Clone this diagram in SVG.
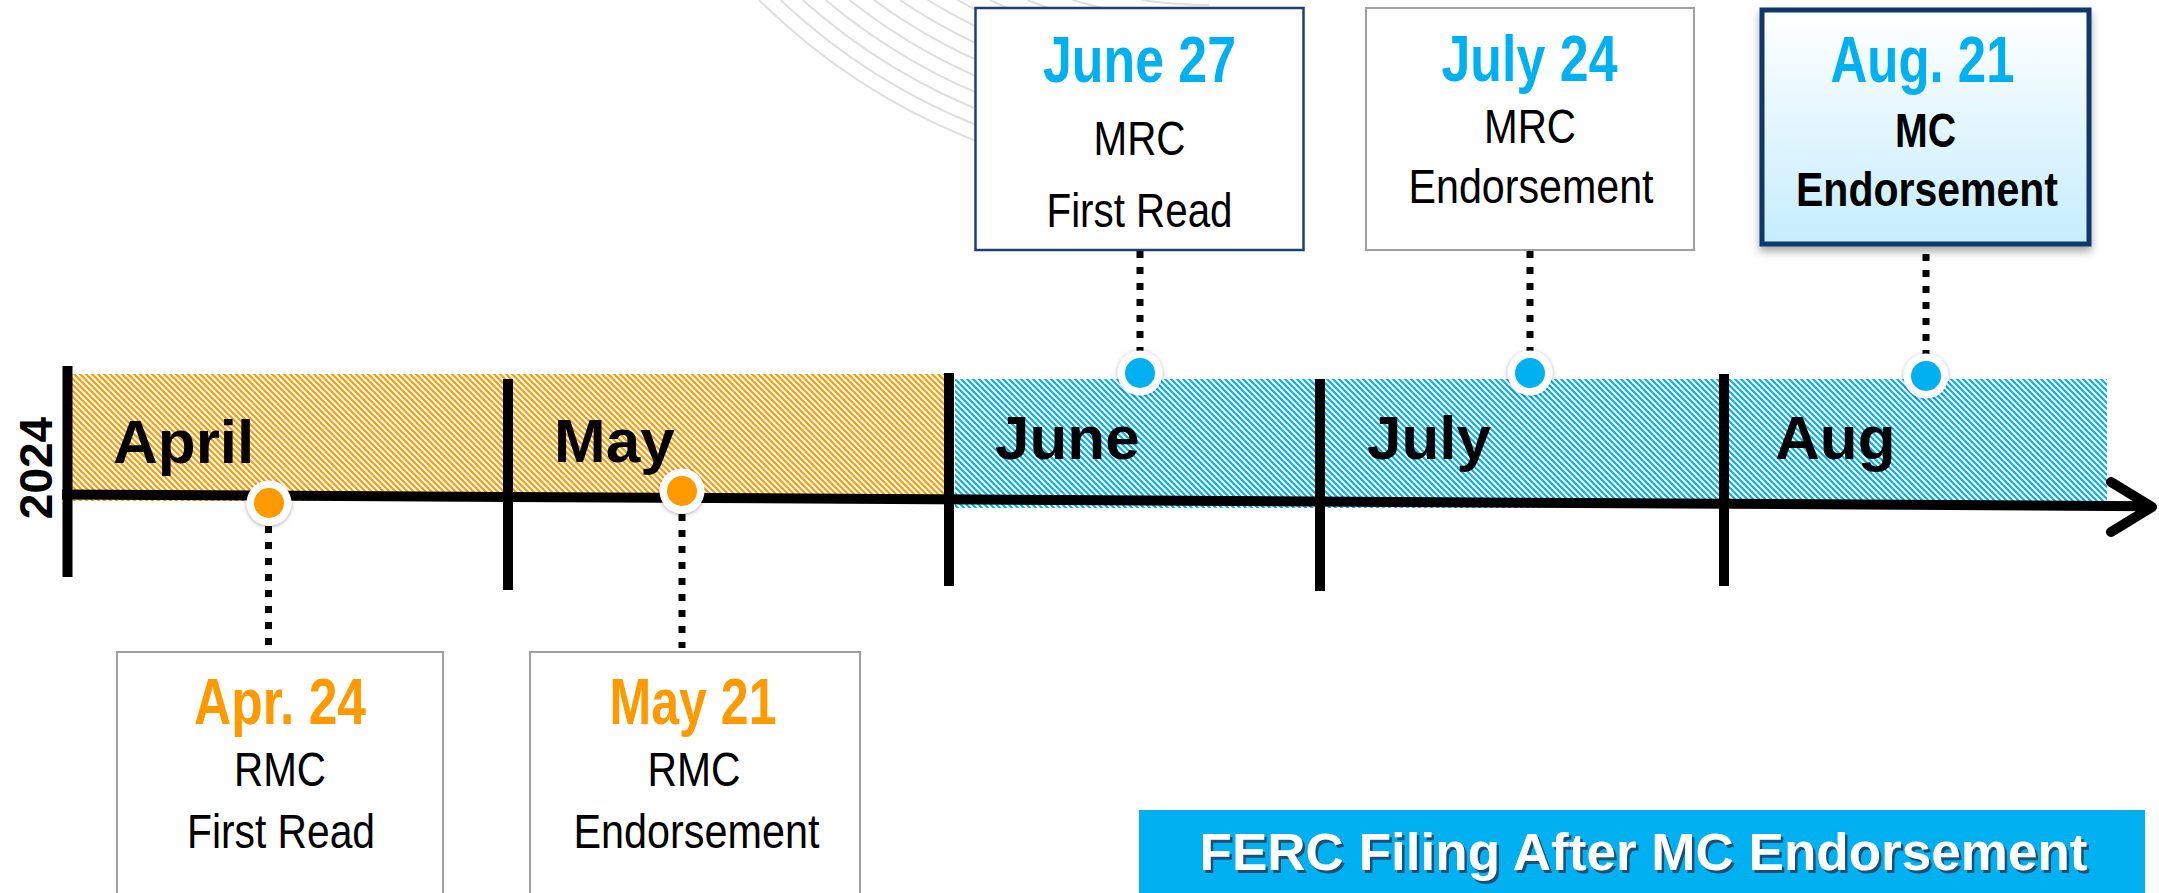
<svg xmlns="http://www.w3.org/2000/svg" width="2159" height="893" viewBox="0 0 2159 893">
<defs>
<pattern id="hatchO" patternUnits="userSpaceOnUse" width="6" height="6">
<rect width="6" height="6" fill="#ffffff"/>
<path d="M-1.5,-1.5 L7.5,7.5 M-1.5,4.5 L1.5,7.5 M4.5,-1.5 L7.5,1.5" stroke="#FF9900" stroke-width="2.1"/>
</pattern>
<pattern id="hatchB" patternUnits="userSpaceOnUse" width="6" height="6">
<rect width="6" height="6" fill="#ffffff"/>
<path d="M-1.5,-1.5 L7.5,7.5 M-1.5,4.5 L1.5,7.5 M4.5,-1.5 L7.5,1.5" stroke="#00B0F0" stroke-width="2.1"/>
</pattern>
<linearGradient id="augFill" x1="0" y1="0" x2="0" y2="1">
<stop offset="0" stop-color="#ffffff"/>
<stop offset="1" stop-color="#C6EDFD"/>
</linearGradient>
<filter id="boxShadow" x="-10%" y="-10%" width="120%" height="130%">
<feDropShadow dx="0" dy="5" stdDeviation="4" flood-color="#000000" flood-opacity="0.35"/>
</filter>
<filter id="dotShadow" x="-50%" y="-50%" width="200%" height="200%">
<feDropShadow dx="0" dy="1" stdDeviation="2" flood-color="#000000" flood-opacity="0.35"/>
</filter>
<style>
.date{font-family:"Liberation Sans",Arial,sans-serif;font-weight:bold;font-size:64px;text-anchor:middle}
.sub{font-family:"Liberation Sans",Arial,sans-serif;font-size:48px;text-anchor:middle;fill:#000}
.subb{font-family:"Liberation Sans",Arial,sans-serif;font-size:48px;font-weight:bold;text-anchor:middle;fill:#000}
.month{font-family:"Liberation Sans",Arial,sans-serif;font-weight:bold;font-size:62px;fill:#000}
.orange{fill:#FF9900}
.blue{fill:#00B0F0}
.tick{stroke:#000;stroke-width:10;fill:none}
.conn{stroke:#000;stroke-width:7;stroke-dasharray:7 9;fill:none}
.box{fill:#ffffff;stroke:#A0A0A0;stroke-width:2}
.arc{fill:none;stroke:#DEDEDE;stroke-width:2}
</style>
</defs>
<rect width="2159" height="893" fill="#ffffff"/>

<g id="watermark">
<path class="arc" d="M1141.4,0 A460,460 0 0 0 1209,5"/>
<path class="arc" d="M1072.6,0 A475,475 0 0 0 1209,20"/>
<path class="arc" d="M1027.1,0 A490,490 0 0 0 1209,35"/>
<path class="arc" d="M989.9,0 A505,505 0 0 0 1209,50"/>
<path class="arc" d="M957.3,0 A520,520 0 0 0 1209,65"/>
<path class="arc" d="M927.6,0 A535,535 0 0 0 1209,80"/>
<path class="arc" d="M900,0 A550,550 0 0 0 1209,95"/>
<path class="arc" d="M874,0 A565,565 0 0 0 1209,110"/>
<path class="arc" d="M849.3,0 A580,580 0 0 0 1209,125"/>
<path class="arc" d="M825.6,0 A595,595 0 0 0 1209,140"/>
<path class="arc" d="M802.7,0 A610,610 0 0 0 1209,155"/>
<path class="arc" d="M780.5,0 A625,625 0 0 0 1209,170"/>
<path class="arc" d="M759,0 A640,640 0 0 0 1209,185"/>
</g>

<g id="bands">
<rect x="72" y="374" width="872" height="127" fill="url(#hatchO)"/>
<rect x="955" y="379" width="1152" height="129" fill="url(#hatchB)"/>
</g>

<g id="axis">
<path d="M62,494.4 L2150,506.2" stroke="#000" stroke-width="10" fill="none"/>
<path d="M2111,482 L2152,507 L2111,532" stroke="#000" stroke-width="10" fill="none" stroke-linecap="round" stroke-linejoin="round"/>
<line class="tick" x1="67.5" y1="366" x2="67.5" y2="577"/>
<line class="tick" x1="508" y1="379" x2="508" y2="590"/>
<line class="tick" x1="949" y1="373" x2="949" y2="586"/>
<line class="tick" x1="1320" y1="379" x2="1320" y2="591"/>
<line class="tick" x1="1724" y1="374" x2="1724" y2="586"/>
</g>

<g id="labels">
<text class="month" transform="translate(51.5,468) rotate(-90)" style="font-size:46px" text-anchor="middle">2024</text>
<text class="month" x="113" y="463">April</text>
<text class="month" x="554" y="462">May</text>
<text class="month" x="995" y="459">June</text>
<text class="month" x="1367" y="459">July</text>
<text class="month" x="1775" y="459">Aug</text>
</g>

<g id="connectors">
<line class="conn" x1="268.5" y1="526" x2="268.5" y2="652"/>
<line class="conn" x1="682" y1="514" x2="682" y2="648"/>
<line class="conn" x1="1140" y1="251" x2="1140" y2="352"/>
<line class="conn" x1="1530" y1="251" x2="1530" y2="352"/>
<line class="conn" x1="1926" y1="254" x2="1926" y2="354"/>
</g>

<g id="markers">
<g id="m-apr"><circle cx="269" cy="503" r="22.5" fill="#fff" filter="url(#dotShadow)"/><circle cx="269" cy="503" r="15" class="orange"/></g>
<g id="m-may"><circle cx="682" cy="491" r="22.5" fill="#fff" filter="url(#dotShadow)"/><circle cx="682" cy="491" r="15" class="orange"/></g>
<g id="m-jun"><circle cx="1140" cy="373" r="22.5" fill="#fff" filter="url(#dotShadow)"/><circle cx="1140" cy="373" r="15" class="blue"/></g>
<g id="m-jul"><circle cx="1530" cy="373" r="22.5" fill="#fff" filter="url(#dotShadow)"/><circle cx="1530" cy="373" r="15" class="blue"/></g>
<g id="m-aug"><circle cx="1926" cy="376" r="22.5" fill="#fff" filter="url(#dotShadow)"/><circle cx="1926" cy="376" r="15" class="blue"/></g>
</g>

<g id="node-jun27">
<rect x="975.5" y="8" width="328" height="242" fill="#fff" stroke="#1F3F6E" stroke-width="2.5"/>
<text class="date blue" x="1139.5" y="82" textLength="193" lengthAdjust="spacingAndGlyphs">June 27</text>
<text class="sub" x="1139.5" y="155" textLength="92" lengthAdjust="spacingAndGlyphs">MRC</text>
<text class="sub" x="1139.5" y="227" textLength="186" lengthAdjust="spacingAndGlyphs">First Read</text>
</g>

<g id="node-jul24">
<rect x="1366" y="8" width="328" height="242" class="box"/>
<text class="date blue" x="1529.5" y="81" textLength="176" lengthAdjust="spacingAndGlyphs">July 24</text>
<text class="sub" x="1530" y="143" textLength="92" lengthAdjust="spacingAndGlyphs">MRC</text>
<text class="sub" x="1531" y="203" textLength="245" lengthAdjust="spacingAndGlyphs">Endorsement</text>
</g>

<g id="node-aug21">
<rect x="1762" y="10" width="327" height="234" fill="url(#augFill)" stroke="#10386B" stroke-width="5" filter="url(#boxShadow)"/>
<text class="date blue" x="1922.5" y="82" textLength="184" lengthAdjust="spacingAndGlyphs">Aug. 21</text>
<text class="subb" x="1925.5" y="146.7" textLength="61" lengthAdjust="spacingAndGlyphs">MC</text>
<text class="subb" x="1927" y="205.7" textLength="262" lengthAdjust="spacingAndGlyphs">Endorsement</text>
</g>

<g id="node-apr24">
<rect x="117" y="652" width="326" height="260" class="box"/>
<text class="date orange" x="280" y="724" textLength="172" lengthAdjust="spacingAndGlyphs">Apr. 24</text>
<text class="sub" x="280" y="786" textLength="92" lengthAdjust="spacingAndGlyphs">RMC</text>
<text class="sub" x="281" y="848" textLength="188" lengthAdjust="spacingAndGlyphs">First Read</text>
</g>

<g id="node-may21">
<rect x="530" y="652" width="330" height="260" class="box"/>
<text class="date orange" x="693" y="724" textLength="167" lengthAdjust="spacingAndGlyphs">May 21</text>
<text class="sub" x="694" y="786" textLength="93" lengthAdjust="spacingAndGlyphs">RMC</text>
<text class="sub" x="696.5" y="848" textLength="246" lengthAdjust="spacingAndGlyphs">Endorsement</text>
</g>

<g id="node-ferc">
<rect x="1139" y="810" width="1006" height="95" fill="#00B0F0"/>
<text x="1646" y="872.5" font-family="Liberation Sans, Arial, sans-serif" font-weight="bold" font-size="51" text-anchor="middle" fill="#1F3F5F" fill-opacity="0.85" textLength="888" lengthAdjust="spacingAndGlyphs">FERC Filing After MC Endorsement</text>
<text x="1643.5" y="870" font-family="Liberation Sans, Arial, sans-serif" font-weight="bold" font-size="51" text-anchor="middle" fill="#ffffff" textLength="888" lengthAdjust="spacingAndGlyphs">FERC Filing After MC Endorsement</text>
</g>
</svg>
